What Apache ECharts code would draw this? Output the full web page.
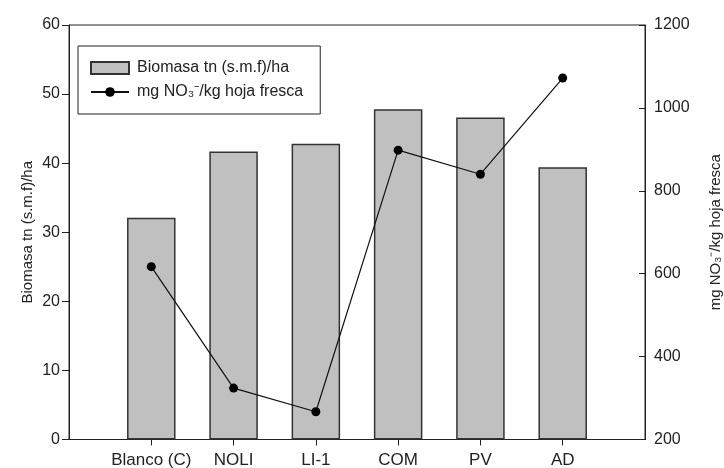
<!DOCTYPE html>
<html>
<head>
<meta charset="utf-8">
<script src="https://cdn.jsdelivr.net/npm/echarts@6/dist/echarts.min.js"></script>
<style>
  html, body { margin: 0; padding: 0; background: #fff; }
  #chart { width: 724px; height: 468px; }
</style>
</head>
<body>
<div id="chart"></div>
<script>
// Treatments, biomass (t/ha, left axis) and nitrate in fresh leaves (mg/kg, right axis)
var categories = ['Blanco (C)', 'NOLI', 'LI-1', 'COM', 'PV', 'AD'];
var biomasa = [32.1, 41.7, 42.8, 47.8, 46.6, 39.4];
var nitratos = [617, 324, 267, 898, 840, 1072];
var leftTicks = { min: 0, max: 60, interval: 10 };
var rightTicks = { min: 200, max: 1200, interval: 200 };

var nameBar = 'Biomasa tn (s.m.f)/ha';
var nameLine = 'mg NO\u2083\u207B/kg hoja fresca';

// one empty slot on each side so the groups sit one band in from the frame
var axisCats = [''].concat(categories, ['']);
var padSeries = function (arr) { return [null].concat(arr, [null]); };
var plain = function (v) { return String(v); };

var font = 'Liberation Sans, Arial, sans-serif';
var ink = '#222';

var chart = echarts.init(document.getElementById('chart'), null, { renderer: 'canvas' });
chart.setOption({
  animation: false,
  backgroundColor: '#fff',
  textStyle: { fontFamily: font },
  grid: {
    left: 69, right: 79, top: 25, bottom: 28.5,
    outerBoundsMode: 'none',
    containLabel: false,
    show: true, borderColor: ink, borderWidth: 1, backgroundColor: 'transparent'
  },
  legend: {
    orient: 'vertical',
    left: 78, top: 46,
    padding: [14, 17, 14, 12],
    borderColor: ink, borderWidth: 1,
    itemWidth: 38, itemHeight: 12, itemGap: 8,
    textStyle: { fontFamily: font, fontSize: 16, color: ink, padding: [0, 0, 0, 3] },
    data: [
      { name: nameBar, icon: 'rect' },
      { name: nameLine }
    ]
  },
  xAxis: {
    type: 'category',
    data: axisCats,
    boundaryGap: false,
    axisLine: { lineStyle: { color: ink, width: 1 } },
    axisTick: {
      length: 6,
      lineStyle: { color: ink },
      interval: function (i) { return i > 0 && i < axisCats.length - 1; }
    },
    axisLabel: { interval: 0, margin: 12, fontSize: 17, color: ink, fontFamily: font },
    splitLine: { show: false }
  },
  yAxis: [
    {
      type: 'value',
      min: leftTicks.min, max: leftTicks.max, interval: leftTicks.interval,
      name: nameBar,
      nameLocation: 'middle',
      nameGap: 34,
      nameMoveOverlap: false,
      nameRotate: 90,
      nameTextStyle: { fontSize: 15, color: ink, fontFamily: font },
      axisLine: { show: true, lineStyle: { color: ink, width: 1 } },
      axisTick: { show: true, length: 7, lineStyle: { color: ink } },
      axisLabel: { margin: 9, fontSize: 16, color: ink, fontFamily: font, formatter: plain },
      splitLine: { show: false }
    },
    {
      type: 'value',
      position: 'right',
      min: rightTicks.min, max: rightTicks.max, interval: rightTicks.interval,
      name: nameLine,
      nameLocation: 'middle',
      nameGap: 63,
      nameMoveOverlap: false,
      nameRotate: 90,
      nameTextStyle: { fontSize: 15, color: ink, fontFamily: font },
      axisLine: { show: true, lineStyle: { color: ink, width: 1 } },
      axisTick: { show: true, inside: true, length: 6, lineStyle: { color: ink } },
      axisLabel: { margin: 9, fontSize: 16, color: ink, fontFamily: font, formatter: plain },
      splitLine: { show: false }
    }
  ],
  series: [
    {
      name: nameBar,
      type: 'bar',
      yAxisIndex: 0,
      barWidth: 48.5,
      data: padSeries(biomasa),
      itemStyle: { color: '#c0c0c0', borderColor: '#333', borderWidth: 1.5 },
      z: 2
    },
    {
      name: nameLine,
      type: 'line',
      yAxisIndex: 1,
      data: padSeries(nitratos),
      connectNulls: false,
      symbol: 'circle',
      symbolSize: 9,
      lineStyle: { color: '#111', width: 1.2 },
      itemStyle: { color: '#000' },
      z: 3
    }
  ]
});
</script>
</body>
</html>
